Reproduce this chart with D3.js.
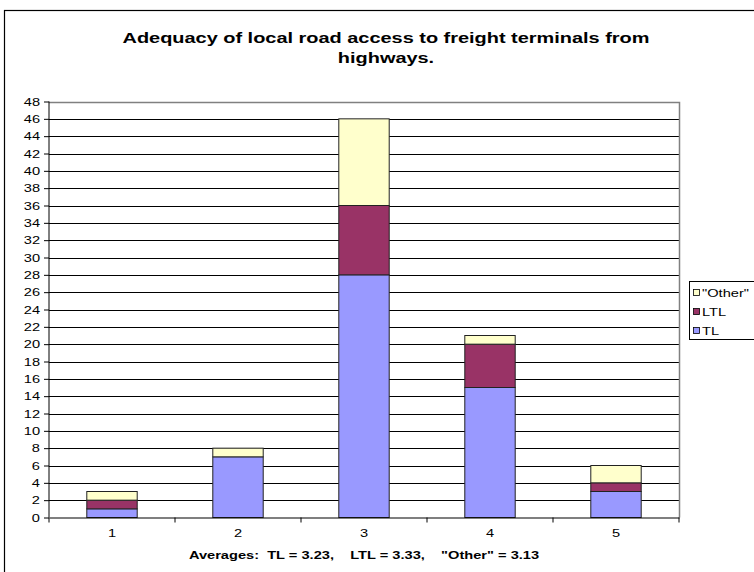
<!DOCTYPE html>
<html><head><meta charset="utf-8">
<script src="https://cdn.jsdelivr.net/npm/d3@7"></script>
<style>body{margin:0;background:#fff}svg{display:block}text{font-family:"Liberation Sans",Arial,sans-serif}</style>
</head><body>
<svg id="c" width="754" height="572"></svg>
<script>
const categories = ["1","2","3","4","5"];
const seriesNames = ["TL","LTL","\"Other\""];
const TL = [1,7,28,15,3];
const LTL = [1,0,8,5,1];
const Other = [1,1,10,1,2];
const colors = ["#9999FF","#993366","#FFFFCC"];
const yTicks = d3.range(0,49,2);
const title1 = "Adequacy of local road access to freight terminals from";
const title2 = "highways.";
const footnote = "Averages:  TL = 3.23,    LTL = 3.33,    \"Other\" = 3.13";

const SX = 1.33; // horizontal stretch of text seen in the reference
const svg = d3.select("#c");
svg.append("rect").attr("x",4.5).attr("y",10.5).attr("width",760).attr("height",580)
  .attr("fill","#fff").attr("stroke","#000").attr("stroke-width",1.2);

const L=49,R=679,T=101.5,B=517.5;
const x = d3.scaleBand().domain(categories).range([L,R]).paddingInner(0.6).paddingOuter(0.3);
const xc = d3.scaleBand().domain(categories).range([L,R]);
const y = d3.scaleLinear().domain([0,48]).range([B,T]);

function stext(px,py,str,size,bold,anchor){
  return svg.append("text").attr("transform",`translate(${px},${py}) scale(${SX},1)`)
    .attr("text-anchor",anchor||"middle").attr("font-size",size)
    .attr("font-weight",bold?"bold":"normal").attr("xml:space","preserve").style("white-space","pre").text(str);
}

// gridlines
svg.append("g").selectAll("line").data(yTicks.filter(d=>d>0&&d<48)).join("line")
  .attr("x1",L).attr("x2",R).attr("y1",d=>Math.round(y(d))+0.5).attr("y2",d=>Math.round(y(d))+0.5)
  .attr("stroke","#000").attr("stroke-width",1);
svg.append("path").attr("d",`M${L},${Math.round(T)+0.5}H${R+0.5}V${B}`).attr("fill","none").attr("stroke","#808080").attr("stroke-width",1.5);

const rows = categories.map((c,i)=>({cat:c,TL:TL[i],LTL:LTL[i],Other:Other[i]}));
const stack = d3.stack().keys(["TL","LTL","Other"])(rows);
svg.append("g").selectAll("g").data(stack).join("g").attr("fill",(d,i)=>colors[i])
  .selectAll("rect").data(d=>d.filter(s=>s[1]>s[0])).join("rect")
  .attr("x",d=>x(d.data.cat)).attr("width",x.bandwidth())
  .attr("y",d=>y(d[1])).attr("height",d=>y(d[0])-y(d[1]))
  .attr("stroke","#222").attr("stroke-width",1);

// y axis
const ya = svg.append("g").attr("transform",`translate(${L},0)`)
  .call(d3.axisLeft(y).tickValues(yTicks).tickSize(5).tickPadding(4));
ya.select(".domain").attr("stroke","#000").attr("d",`M0,${T}V${B}`);
ya.selectAll(".tick line").attr("stroke","#000");
ya.selectAll("text").attr("font-size",11).attr("fill","#000").attr("font-family","Liberation Sans, Arial, sans-serif")
  .attr("x",-9/SX).attr("transform",`scale(${SX},1)`);

// x axis
const xa = svg.append("g").attr("transform",`translate(0,${B})`)
  .call(d3.axisBottom(xc).tickSize(0).tickPadding(12));
xa.select(".domain").attr("stroke","#000").attr("stroke-width",1.2);
xa.selectAll("text").attr("font-size",11).attr("fill","#000").attr("font-family","Liberation Sans, Arial, sans-serif")
  .attr("transform",`scale(${SX},1)`);
svg.append("g").selectAll("line").data(d3.range(6)).join("line")
  .attr("x1",i=>L+i*xc.step()).attr("x2",i=>L+i*xc.step())
  .attr("y1",B).attr("y2",B+5).attr("stroke","#000");

// title
stext(386,43,title1,15,true);
stext(386,63,title2,15,true);

// footnote
stext(364,559,footnote,11,true);

// legend
const lg = svg.append("g");
lg.append("rect").attr("x",689.5).attr("y",281.5).attr("width",80).attr("height",58)
  .attr("fill","#fff").attr("stroke","#000");
[2,1,0].forEach((si,k)=>{
  const cy = 293 + k*19;
  lg.append("rect").attr("x",693.5).attr("y",cy-3.5).attr("width",6).attr("height",6)
    .attr("fill",colors[si]).attr("stroke","#000").attr("stroke-width",0.8);
  stext(702,cy+4,seriesNames[si],11,false,"start");
});
</script>
</body></html>
